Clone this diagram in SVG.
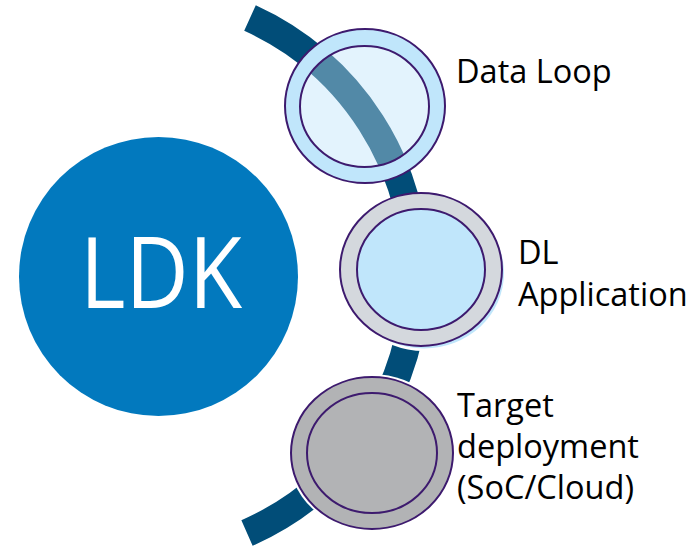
<svg xmlns="http://www.w3.org/2000/svg" xmlns:xlink="http://www.w3.org/1999/xlink" width="697" height="548" viewBox="0 0 697 548">
<style>
.ring{stroke:#3D1A6E;stroke-width:2}
.lbl{font-family:"Open Sans","Noto Sans","Liberation Sans",sans-serif;font-size:32.5px;fill:#000}
.arc{fill:none;stroke:#014D78;stroke-width:28}
</style>
<defs>
<path id="arcPath" d="M 250 18 A 282 282 0 0 1 247 533"/>
<clipPath id="dlInner"><ellipse cx="364.5" cy="106.5" rx="64.5" ry="60.5"/></clipPath>
</defs>
<g id="ldk">
<circle cx="158.5" cy="276.5" r="139.5" fill="#0279BE"/>
<text x="161" y="308" text-anchor="middle" font-family="Open Sans, Noto Sans, Liberation Sans, sans-serif" font-size="99" fill="#fff" textLength="162" lengthAdjust="spacingAndGlyphs">LDK</text>
</g>
<g id="connectors">
<use xlink:href="#arcPath" class="arc"/>
</g>
<g id="data-loop">
<ellipse cx="365" cy="106" rx="80" ry="77" fill="#C0E6FB" class="ring"/>
<ellipse cx="364.5" cy="106.5" rx="64.5" ry="60.5" fill="#E3F3FD"/>
<use xlink:href="#arcPath" class="arc" clip-path="url(#dlInner)" opacity="0.645"/>
<ellipse cx="364.5" cy="106.5" rx="64.5" ry="60.5" fill="none" class="ring"/>
<text class="lbl" x="456" y="83">Data Loop</text>
</g>
<g id="dl-application">
<ellipse cx="424" cy="273" rx="83" ry="78" fill="#fff"/>
<ellipse cx="424" cy="273" rx="80" ry="75.5" fill="#C0E6FB"/>
<ellipse cx="421" cy="269.5" rx="81" ry="76.5" fill="#D4D8DD" class="ring"/>
<ellipse cx="421" cy="269.5" rx="64" ry="60.5" fill="#C0E6FB" class="ring"/>
<text class="lbl"><tspan x="518" y="264">DL</tspan><tspan x="518" y="305.5">Application</tspan></text>
</g>
<g id="target-deployment">
<ellipse cx="372" cy="453" rx="84" ry="79" fill="#fff"/>
<ellipse cx="372" cy="453" rx="81" ry="76" fill="#B2B3B5" class="ring"/>
<ellipse cx="372" cy="453" rx="65" ry="60" fill="none" class="ring"/>
<text class="lbl"><tspan x="457" y="417">Target</tspan><tspan x="457" y="458">deployment</tspan><tspan x="457" y="499">(SoC/Cloud)</tspan></text>
</g>
</svg>
